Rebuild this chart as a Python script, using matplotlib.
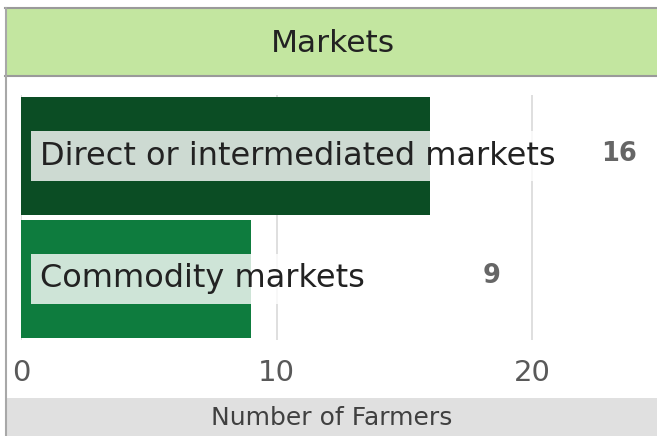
import matplotlib
matplotlib.use('Agg')
import matplotlib.pyplot as plt
from matplotlib.patches import Rectangle

categories = ['Direct or intermediated markets', 'Commodity markets']
farmers = [16, 9]
bar_colors = ['#0B4D24', '#0E7C3E']
value_label_x = [23.4, 18.4]  # where the count labels sit (data units)
x_ticks = [0, 10, 20]

W, H = 657, 436
fig = plt.figure(figsize=(W / 100, H / 100), dpi=100)
fig.patch.set_facecolor('white')

def fx(px):
    return px / W

def fy(py):
    return 1 - py / H

# title band and frame
fig.patches.append(Rectangle((fx(5), fy(76)), 1 - fx(5), fy(8) - fy(76),
                             transform=fig.transFigure, facecolor='#C3E6A0',
                             edgecolor='none', zorder=0))
fig.add_artist(plt.Line2D([fx(5), 1], [fy(8), fy(8)], color='#9A9A9A', lw=1.5))
fig.add_artist(plt.Line2D([fx(5), 1], [fy(76.5), fy(76.5)], color='#9A9A9A', lw=1.5))
fig.add_artist(plt.Line2D([fx(5.5), fx(5.5)], [0, fy(8)], color='#A8A8A8', lw=1.5))
fig.text(fx(333), fy(43), 'Markets', ha='center', va='center',
         fontsize=22.5, color='#222222')

# x label band
fig.patches.append(Rectangle((fx(6.5), 0), 1 - fx(6.5), fy(398),
                             transform=fig.transFigure, facecolor='#E0E0E0',
                             edgecolor='none', zorder=0))
fig.text(fx(332), fy(418), 'Number of Farmers', ha='center', va='center',
         fontsize=18, color='#404040')

ax = fig.add_axes([fx(21), fy(340), 1 - fx(21), fy(95) - fy(340)])
ax.set_facecolor('none')
ax.set_xlim(0, (W - 21) / 25.55)
ax.set_ylim(-0.5, 1.5)
ax.invert_yaxis()

ypos = list(range(len(categories)))
bars = ax.barh(ypos, farmers, height=0.96, color=bar_colors, zorder=2)

for y, name, val, bar, vx in zip(ypos, categories, farmers, bars, value_label_x):
    t = ax.text(0, y, name, ha='left', va='center', fontsize=23,
                color='#222222', zorder=4,
                transform=ax.transData + matplotlib.transforms.ScaledTranslation(
                    19 / 100, 0, fig.dpi_scale_trans),
                bbox=dict(boxstyle='square,pad=0.29', facecolor='white',
                          edgecolor='none', alpha=0.8))
    t.get_bbox_patch().set_clip_path(bar)
    ax.text(vx, y - 0.02, str(val), ha='center', va='center', fontsize=18.5,
            fontweight='semibold', color='#666666', zorder=4)

ax.set_xticks(x_ticks)
ax.set_yticks([])
ax.grid(axis='x', color='#DCDCDC', lw=1.3, zorder=1)
ax.set_axisbelow(True)
for s in ax.spines.values():
    s.set_visible(False)
ax.tick_params(axis='x', length=0, pad=14, labelsize=21, labelcolor='#595959')

fig.savefig('out.png', dpi=100)
